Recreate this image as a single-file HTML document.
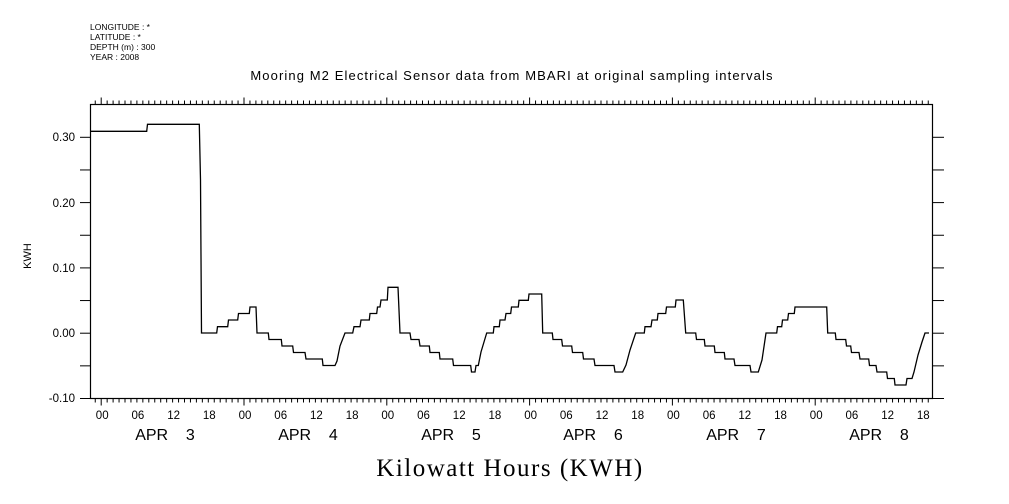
<!DOCTYPE html>
<html><head><meta charset="utf-8"><style>
html,body{margin:0;padding:0;background:#fff;}
svg{display:block;}
text{font-family:"Liberation Sans",sans-serif;fill:#000;white-space:pre;}
</style></head><body>
<svg width="1009" height="504" viewBox="0 0 1009 504" xmlns="http://www.w3.org/2000/svg">
<g font-size="8.5">
<text x="90" y="30">LONGITUDE : *</text>
<text x="90" y="40">LATITUDE : *</text>
<text x="90" y="50">DEPTH (m) : 300</text>
<text x="90" y="60">YEAR : 2008</text>
</g>
<text x="512" y="80" font-size="13" letter-spacing="1.1" text-anchor="middle">Mooring M2 Electrical Sensor data from MBARI at original sampling intervals</text>
<rect x="90.5" y="104.5" width="842" height="294" fill="none" stroke="#000" stroke-width="1.2"/>
<g id="ticks" stroke="#000" stroke-width="1"></g>
<g font-size="11.5" text-anchor="end">
<text x="75" y="141">0.30</text>
<text x="75" y="207">0.20</text>
<text x="75" y="272">0.10</text>
<text x="75" y="337">0.00</text>
<text x="75" y="402">-0.10</text>
</g>
<text transform="translate(31,256) rotate(-90)" font-size="11" text-anchor="middle">KWH</text>
<g id="hl" font-size="11.5" text-anchor="middle"></g>
<g font-size="16" text-anchor="middle">
<text x="165" y="440">APR    3</text>
<text x="308" y="440">APR    4</text>
<text x="451" y="440">APR    5</text>
<text x="593" y="440">APR    6</text>
<text x="736" y="440">APR    7</text>
<text x="879" y="440">APR    8</text>
</g>
<text x="510" y="476" font-size="25" letter-spacing="1.5" text-anchor="middle" style="font-family:'Liberation Serif',serif">Kilowatt Hours (KWH)</text>
<path fill="none" stroke="#000" stroke-width="1.3" d="
M91,131.3 H146.7 L147.5,124.3 H199.3 L200.5,180 L201.5,333 H216.7 L217.5,326.7 H227.7 L228.5,320 H237.7 L238.5,313.5 H249.3 L250,307 H256 L257,333 H268.3 L269,339.5 H281.3 L282,346 H292.7 L293.5,352.5 H305 L306,359 H322.3 L323,365.5 H335 L337,361 L340,346 L345,333 H352.7 L354,326.7 H360 L361,320 H369.3 L370,313.5 H376.7 L377.5,307 H380 L381,300 H387.3 L388,287.3 H398 L400,333 H410 L411,339.5 H419 L420,346 H429.3 L430,352.5 H439.3 L440,359 H452.7 L453.5,365.5 H470.7 L471.5,372 H475 L476,365.5 H478.3 L481,352 L486.7,333 H493.3 L494,326.7 H499.3 L500,320 H505 L506,313.5 H510.7 L511.5,307 H518.3 L519,300.3 H528.3 L529,294 H541.7 L542.7,333 H552.3 L553,339.5 H561.7 L562.5,346 H571.7 L572.5,352.5 H582.7 L583.5,359 H594 L595,365.5 H614 L615,372 H622.7 L626,365 L630,350 L635.7,333 H644.3 L645,326.7 H651 L652,320 H657.3 L658,313.5 H665.7 L666.5,307 H675.3 L676,300 H683.3 L685.7,333 H695.7 L696.5,339.5 H704.3 L705,346 H714.3 L715,352.5 H724.3 L725,359 H734 L735,365.5 H750 L751,372 H758.3 L762,360 L766,333 H776.7 L777.5,326.7 H781.7 L782.5,320 H787.7 L788.5,313.5 H794.3 L795,307 H826.7 L827.7,333 H835.3 L836,339.5 H845.7 L846.5,346 H850.7 L851.5,352.5 H859 L860,359 H868.7 L869.5,365.5 H876 L877,372 H886.7 L887.5,378.5 H894.3 L895,385 H906 L907,378.5 H912 L914,372 L918,355 L922,342 L925,333 H929"/>
<script>
(function(){
var ns="http://www.w3.org/2000/svg",g=document.getElementById("ticks"),hl=document.getElementById("hl");
function ln(x1,y1,x2,y2){var l=document.createElementNS(ns,"line");l.setAttribute("x1",x1);l.setAttribute("y1",y1);l.setAttribute("x2",x2);l.setAttribute("y2",y2);g.appendChild(l);}
for(var h=-1;h<=139;h++){var x=101.2+5.95*h;var maj=(h%24===0);var len=maj?7:4;
ln(x,104.5,x,104.5-len);ln(x,398.5,x,398.5+len);
if(h%6===0&&h>=0){var t=document.createElementNS(ns,"text");t.setAttribute("x",x+1);t.setAttribute("y",419);var hh=h%24;t.textContent=(hh<10?"0":"")+hh;hl.appendChild(t);}}
for(var i=0;i<=8;i++){var y=398.5-32.65*i;ln(80,y,90.5,y);ln(932.5,y,944,y);}
})();
</script>
</svg>
</body></html>
